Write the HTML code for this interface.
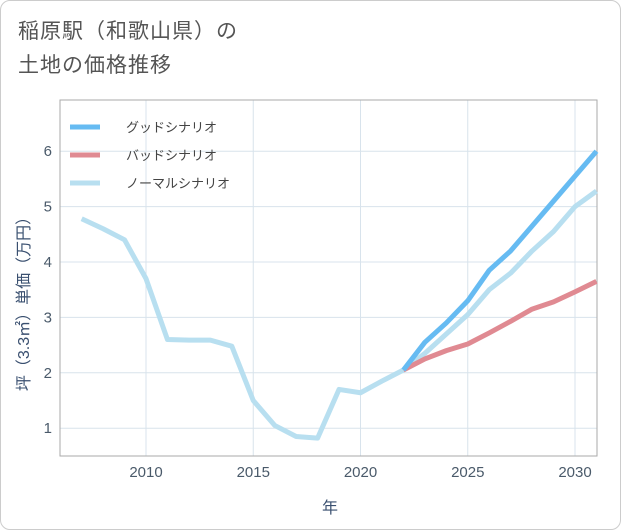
<!DOCTYPE html>
<html><head><meta charset="utf-8"><style>
body{margin:0;background:#fff;font-family:"Liberation Sans","Noto Sans CJK JP",sans-serif;}
#card{position:absolute;left:0;top:0;width:619px;height:528px;border:1px solid #ccc;border-radius:10px;background:#fff;overflow:hidden}
#title{position:absolute;left:17px;top:14px;font-size:21px;line-height:34px;color:#555;letter-spacing:1px}
</style></head><body>
<div id="card">
<div id="title">稲原駅（和歌山県）の<br>土地の価格推移</div>
<svg id="chart" width="621" height="530" style="position:absolute;left:-1px;top:-1px"></svg>
</div>
<script>
const years=[2007,2008,2009,2010,2011,2012,2013,2014,2015,2016,2017,2018,2019,2020,2021,2022,2023,2024,2025,2026,2027,2028,2029,2030,2031];
const normal=[4.78,4.6,4.4,3.7,2.6,2.59,2.59,2.48,1.5,1.05,0.85,0.82,1.7,1.64,1.85,2.05,2.35,2.7,3.05,3.5,3.8,4.2,4.55,5.0,5.28];
const goodYears=[2022,2023,2024,2025,2026,2027,2028,2029,2030,2031];
const good=[2.05,2.55,2.9,3.3,3.85,4.2,4.65,5.1,5.55,6.0];
const bad=[2.05,2.25,2.4,2.52,2.72,2.93,3.15,3.28,3.46,3.65];
const xTicks=[2010,2015,2020,2025,2030];
const yTicks=[1,2,3,4,5,6];
const NS='http://www.w3.org/2000/svg';
const svg=document.getElementById('chart');
const L=60,R=597,T=100,B=456;
const x=v=>146+(v-2010)*(575-146)/20;
const y=v=>483.6-v*55.4;
function mk(t,a,p){const e=document.createElementNS(NS,t);for(const k in a)e.setAttribute(k,a[k]);(p||svg).appendChild(e);return e;}
xTicks.forEach(v=>{const g=mk('line',{x1:x(v),x2:x(v),y1:T,y2:B,stroke:'#d8e3ec'});


const t=mk('text',{x:x(v),y:477,'text-anchor':'middle','font-size':15,fill:'#4a5a6a'});t.textContent=v;

});
yTicks.forEach(v=>{const g=mk('line',{x1:L,x2:R,y1:y(v),y2:y(v),stroke:'#d8e3ec'});


const t=mk('text',{x:52,y:y(v)+5,'text-anchor':'end','font-size':15,fill:'#4a5a6a'});t.textContent=v;

});
const fr=mk('rect',{x:L,y:T,width:R-L,height:B-T,fill:'none',stroke:'#aaa'});


function line(xs,ys,c,n){const p=mk('polyline',{points:xs.map((v,i)=>x(v)+','+y(ys[i])).join(' '),fill:'none',stroke:c,'stroke-width':5,'stroke-linejoin':'round'});

}
line(years,normal,'#b8dff0','normal-scenario-line');
line(goodYears,bad,'#e08a92','bad-scenario-line');
line(goodYears,good,'#66bbf2','good-scenario-line');
const leg=[['グッドシナリオ','#66bbf2'],['バッドシナリオ','#e08a92'],['ノーマルシナリオ','#b8dff0']];
leg.forEach((l,i)=>{const yy=127+i*28;const s=mk('line',{x1:70,x2:100,y1:yy,y2:yy,stroke:l[1],'stroke-width':5});


const t=mk('text',{x:126,y:yy+5,'font-size':13,fill:'#444'});t.textContent=l[0];

});
const xt=mk('text',{x:330,y:513,'text-anchor':'middle','font-size':16,fill:'#3a5070'});xt.textContent='年';


const yt=mk('text',{x:0,y:0,'text-anchor':'middle','font-size':16,fill:'#3a5070',transform:'translate(29,300) rotate(-90)'});yt.textContent='坪（3.3㎡）単価（万円）';


</script>
</body></html>
